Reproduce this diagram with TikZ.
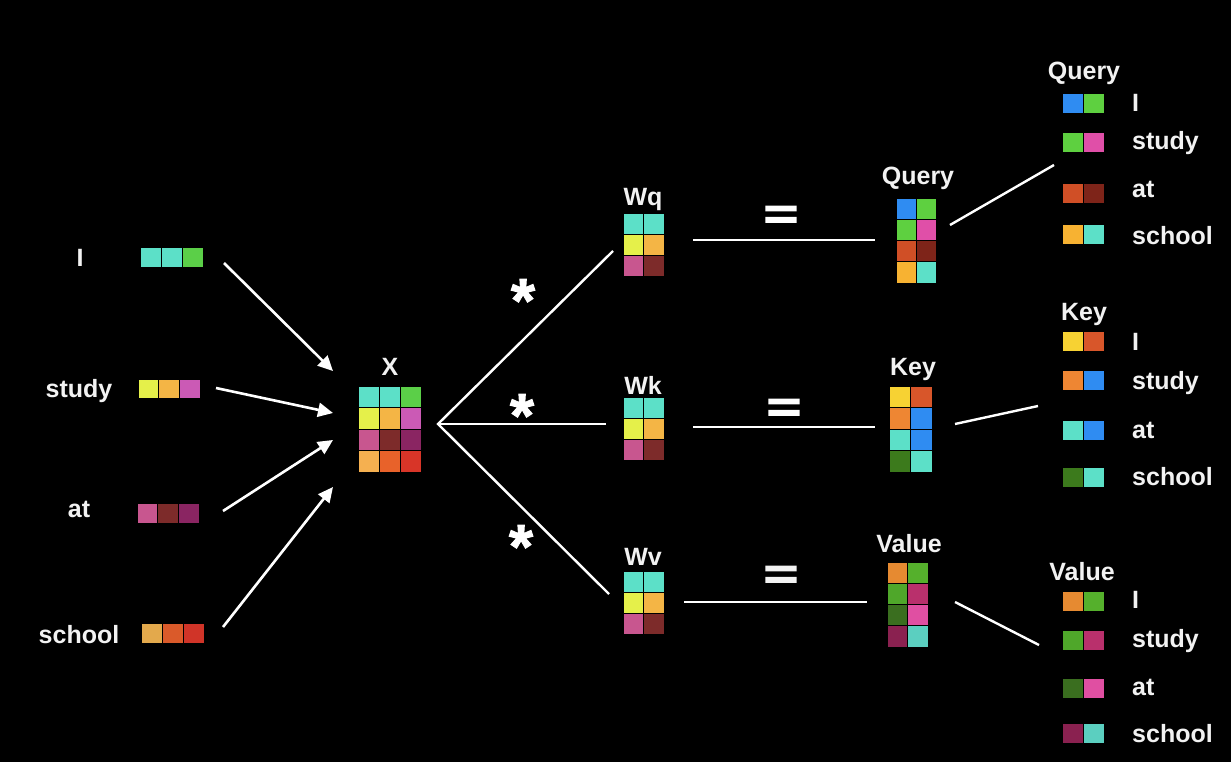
\documentclass[tikz,border=0pt]{standalone}
\usepackage{fontspec}
\setmainfont{Liberation Sans}
\newfontfamily\eqfont{Liberation Sans Bold}[FakeBold=3]
\newfontfamily\astfont{Liberation Sans Bold}[FakeBold=1.5]
\usetikzlibrary{arrows.meta}
\definecolor{tq}{HTML}{5CE0C8}
\definecolor{grn}{HTML}{5BCF48}
\definecolor{yel}{HTML}{E5F04A}
\definecolor{org}{HTML}{F4B545}
\definecolor{pnk}{HTML}{CB5AB5}
\definecolor{rose}{HTML}{C8568F}
\definecolor{brn}{HTML}{7D2B2A}
\definecolor{mag}{HTML}{8A2562}
\definecolor{gold}{HTML}{E3A94C}
\definecolor{ored}{HTML}{DA5A2A}
\definecolor{red}{HTML}{D03428}
\definecolor{lorg}{HTML}{F5B050}
\definecolor{ored2}{HTML}{E8622A}
\definecolor{red2}{HTML}{D83528}
\definecolor{blue}{HTML}{2F8CF2}
\definecolor{qgrn}{HTML}{5ED040}
\definecolor{qpink}{HTML}{E04FA8}
\definecolor{qored}{HTML}{D04F26}
\definecolor{qdred}{HTML}{7E2419}
\definecolor{qorg}{HTML}{F7B232}
\definecolor{kyel}{HTML}{F7D233}
\definecolor{kored}{HTML}{D8562A}
\definecolor{korg}{HTML}{EE8633}
\definecolor{kdgrn}{HTML}{3C7A1C}
\definecolor{vorg}{HTML}{E68A31}
\definecolor{vgrn}{HTML}{55B02C}
\definecolor{vgrn2}{HTML}{4FA72A}
\definecolor{vmag}{HTML}{B9306C}
\definecolor{vdgrn}{HTML}{3A6E1F}
\definecolor{vpink}{HTML}{E04FA2}
\definecolor{vdmag}{HTML}{8A2150}
\definecolor{vtq}{HTML}{5BCFC0}
\definecolor{txt}{HTML}{F2F2F2}
\newcommand{\cellgrid}[6]{%
  \foreach \cellc [count=\celli from 0] in {#6} {
    \pgfmathtruncatemacro{\gridr}{div(\celli,#5)}
    \pgfmathtruncatemacro{\gridc}{mod(\celli,#5)}
    \filldraw[fill=\cellc, draw=black, line width=0.9pt] ({#1+\gridc*#3},{#2+\gridr*#4}) rectangle ++(#3,#4);
  }}
\newcommand{\matnode}[8]{%
  \node[inner sep=0, minimum width={#4*#6}, minimum height={#5*#7}, anchor=north west] (#1) at (#2,#3) {};
  \cellgrid{#2}{#3}{#4}{#5}{#6}{#8}}
\newcommand{\eqsign}{\scalebox{0.95}[0.68]{=}}
\begin{document}
\begin{tikzpicture}[x=1pt,y=-1pt,
  lbl/.style={text=txt, font=\fontsize{25}{28}\selectfont\bfseries, inner sep=0, anchor=base},
  wlbl/.style={lbl, anchor=base west},
  ast/.style={text=white, font=\astfont\fontsize{62}{70}\selectfont, inner sep=0, anchor=north},
  eqs/.style={text=white, font=\eqfont\fontsize{62}{70}\selectfont, inner sep=0, anchor=north},
  conn/.style={white, line width=2.4pt},
  arr/.style={white, line width=2.6pt, -{Triangle[length=15pt,width=14pt]}}]
\fill[black] (0,0) rectangle (1231,762);
\useasboundingbox (0,0) rectangle (1231,762);
% left words
\node[lbl] (tI) at (80,266) {I};
\node[lbl] (tStudy) at (79,397) {study};
\node[lbl] (tAt) at (79,517) {at};
\node[lbl] (tSchool) at (79,643) {school};
\matnode{vI}{140}{247}{21}{20}{3}{1}{tq,tq,grn}
\matnode{vStudy}{138}{379}{20.7}{19.5}{3}{1}{yel,org,pnk}
\matnode{vAt}{137}{503}{20.7}{20}{3}{1}{rose,brn,mag}
\matnode{vSchool}{141}{623}{21}{20}{3}{1}{gold,ored,red}
% X
\node[lbl] (tX) at (390,375) {X};
\matnode{X}{358}{386}{21.3}{21.5}{3}{4}{tq,tq,grn,yel,org,pnk,rose,brn,mag,lorg,ored2,red2}
% arrows into X
\coordinate (a1s) at (224,263); \coordinate (a1e) at (333,371);
\coordinate (a2s) at (216,388); \coordinate (a2e) at (333,413);
\coordinate (a3s) at (223,511); \coordinate (a3e) at (333,440);
\coordinate (a4s) at (223,627); \coordinate (a4e) at (333,487);
\draw[arr] (a1s) -- (a1e);
\draw[arr] (a2s) -- (a2e);
\draw[arr] (a3s) -- (a3e);
\draw[arr] (a4s) -- (a4e);
% W matrices
\node[lbl] (tWq) at (643,206) {Wq};
\node[lbl] (tWk) at (643,394) {Wk};
\node[lbl] (tWv) at (643,565) {Wv};
\matnode{Wq}{623}{213}{20.5}{21.3}{2}{3}{tq,tq,yel,org,rose,brn}
\matnode{Wk}{623}{397}{20.5}{21.3}{2}{3}{tq,tq,yel,org,rose,brn}
\matnode{Wv}{623}{571}{20.5}{21.3}{2}{3}{tq,tq,yel,org,rose,brn}
% fan
\coordinate (f0) at (438,424);
\coordinate (fq) at (613,251);
\coordinate (fk) at (606,424);
\coordinate (fv) at (609,594);
\draw[conn] (fq) -- (f0) -- (fv);
\draw[conn] (f0) -- (fk);
\node[ast] (s1) at (523,279) {*};
\node[ast] (s2) at (522,394) {*};
\node[ast] (s3) at (521,525) {*};
% equals
\coordinate (e1s) at (693,240); \coordinate (e1e) at (875,240);
\coordinate (e2s) at (693,427); \coordinate (e2e) at (875,427);
\coordinate (e3s) at (684,602); \coordinate (e3e) at (867,602);
\draw[conn] (e1s) -- (e1e);
\draw[conn] (e2s) -- (e2e);
\draw[conn] (e3s) -- (e3e);
\node[eqs] (q1) at (781,206) {\eqsign};
\node[eqs] (q2) at (784,399) {\eqsign};
\node[eqs, text=txt] (q3) at (781,566) {\eqsign};
% outputs
\node[lbl] (tQ) at (918,185) {Query};
\node[lbl] (tK) at (913,375) {Key};
\node[lbl] (tV) at (909,552) {Value};
\matnode{Q}{896}{198}{20}{21.3}{2}{4}{blue,qgrn,qgrn,qpink,qored,qdred,qorg,tq}
\matnode{K}{889}{386}{21.5}{21.5}{2}{4}{kyel,kored,korg,blue,tq,blue,kdgrn,tq}
\matnode{V}{887}{562}{20.5}{21.3}{2}{4}{vorg,vgrn,vgrn2,vmag,vdgrn,vpink,vdmag,vtq}
% output connectors
\coordinate (o1s) at (950,225); \coordinate (o1e) at (1054,165);
\coordinate (o2s) at (955,424); \coordinate (o2e) at (1038,406);
\coordinate (o3s) at (955,602); \coordinate (o3e) at (1039,645);
\draw[conn] (o1s) -- (o1e);
\draw[conn] (o2s) -- (o2e);
\draw[conn] (o3s) -- (o3e);
% legends
\node[lbl] (lQ) at (1084,80) {Query};
\matnode{lq1}{1062}{93}{21}{20.5}{2}{1}{blue,qgrn}
\matnode{lq2}{1062}{132}{21}{20.5}{2}{1}{qgrn,qpink}
\matnode{lq3}{1062}{183}{21}{20.5}{2}{1}{qored,qdred}
\matnode{lq4}{1062}{224}{21}{20.5}{2}{1}{qorg,tq}
\node[wlbl] (lqt1) at (1132,112) {I};
\node[wlbl] (lqt2) at (1132,150) {study};
\node[wlbl] (lqt3) at (1132,197) {at};
\node[wlbl] (lqt4) at (1132,244) {school};
\node[lbl] (lK) at (1084,320) {Key};
\matnode{lk1}{1062}{331}{21}{20.5}{2}{1}{kyel,kored}
\matnode{lk2}{1062}{370}{21}{20.5}{2}{1}{korg,blue}
\matnode{lk3}{1062}{420}{21}{20.5}{2}{1}{tq,blue}
\matnode{lk4}{1062}{467}{21}{20.5}{2}{1}{kdgrn,tq}
\node[wlbl] (lkt1) at (1132,350) {I};
\node[wlbl] (lkt2) at (1132,389) {study};
\node[wlbl] (lkt3) at (1132,438) {at};
\node[wlbl] (lkt4) at (1132,485) {school};
\node[lbl] (lV) at (1082,580) {Value};
\matnode{lv1}{1062}{591}{21}{20.5}{2}{1}{vorg,vgrn}
\matnode{lv2}{1062}{630}{21}{20.5}{2}{1}{vgrn2,vmag}
\matnode{lv3}{1062}{678}{21}{20.5}{2}{1}{vdgrn,vpink}
\matnode{lv4}{1062}{723}{21}{20.5}{2}{1}{vdmag,vtq}
\node[wlbl] (lvt1) at (1132,608) {I};
\node[wlbl] (lvt2) at (1132,647) {study};
\node[wlbl] (lvt3) at (1132,695) {at};
\node[wlbl] (lvt4) at (1132,742) {school};
\end{tikzpicture}
\end{document}
